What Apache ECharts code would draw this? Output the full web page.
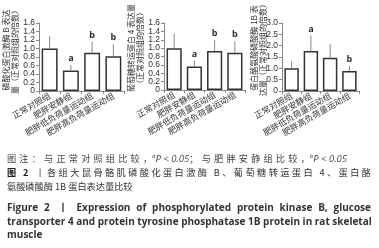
<!DOCTYPE html>
<html><head><meta charset="utf-8">
<script src="https://cdn.jsdelivr.net/npm/echarts@6/dist/echarts.min.js"></script>
<style>html,body{margin:0;padding:0;background:#fff}#c{width:379px;height:248px}</style>
</head><body><div id="c"></div>
<script>
// ---- data ----
const categories = ['正常对照组', '肥胖安静组', '肥胖低负荷量运动组', '肥胖高负荷量运动组'];
const paktMean = [1.0, 0.48, 0.90, 0.82];
const paktErr  = [0.30, 0.13, 0.26, 0.28];
const paktSig  = ['', 'a', 'b', 'b'];
const glut4Mean = [1.0, 0.56, 0.93, 0.89];
const glut4Err  = [0.35, 0.14, 0.26, 0.27];
const glut4Sig  = ['', 'a', 'b', 'b'];
const ptp1bMean = [1.0, 1.76, 1.47, 0.88];
const ptp1bErr  = [0.31, 0.69, 0.59, 0.22];
const ptp1bSig  = ['', 'a', '', 'b'];
const paktTicks  = [0, 0.2, 0.4, 0.6, 0.8, 1.0, 1.2, 1.4, 1.6];
const glut4Ticks = [0, 0.2, 0.4, 0.6, 0.8, 1.0, 1.2, 1.4, 1.6];
const ptp1bTicks = [0, 0.5, 1.0, 1.5, 2.0, 2.5, 3.0];
const yNames = [
  '磷酸化蛋白激酶 B 表达\n量（正常对照组的倍数）',
  '葡萄糖转运蛋白 4 表达量\n（正常对照组的倍数）',
  '蛋白酪氨酸磷酸酶 1B 表\n达量（正常对照组的倍数）'
];
const captionLines = {
  l2: '各组大鼠骨骼肌磷酸化蛋白激酶 B、葡萄糖转运蛋白 4、蛋白酪',
  l3: '氨酸磷酸酶 1B 蛋白表达量比较',
  l4: 'Figure 2  丨  Expression of phosphorylated protein kinase B, glucose',
  l5: 'transporter 4 and protein tyrosine phosphatase 1B protein in rat skeletal',
  l6: 'muscle'
};

// ---- layout ----
const CJK = '"Noto Sans CJK SC", sans-serif';
const grids = [
  {left: 39, top: 23, width: 85, height: 68},
  {left: 164, top: 23, width: 81, height: 67},
  {left: 282, top: 23, width: 77, height: 68}
];
const nameCenters = [[10.5, 50], [135, 48], [258, 48]];
const means = [paktMean, glut4Mean, ptp1bMean];
const errs = [paktErr, glut4Err, ptp1bErr];
const sigs = [paktSig, glut4Sig, ptp1bSig];
const ticks = [paktTicks, glut4Ticks, ptp1bTicks];

const chart = echarts.init(document.getElementById('c'), null, {renderer: 'canvas'});

const xAxes = [], yAxes = [], series = [];
for (let k = 0; k < 3; k++) {
  const tk = ticks[k];
  xAxes.push({
    gridIndex: k, type: 'category', data: categories,
    axisLine: {lineStyle: {color: '#888', width: 1}},
    axisTick: {show: true, length: 3, lineStyle: {color: '#888'}},
    axisLabel: {interval: 0, rotate: 30, fontSize: 8.5, margin: 4, color: '#333', fontFamily: CJK}
  });
  yAxes.push({
    gridIndex: k, type: 'value', min: tk[0], max: tk[tk.length - 1], interval: tk[1] - tk[0],
    axisLine: {show: true, lineStyle: {color: '#888', width: 1}},
    axisTick: {show: true, length: 3, lineStyle: {color: '#888'}},
    splitLine: {show: false},
    axisLabel: {show: false}
  });
  series.push({
    type: 'bar', xAxisIndex: k, yAxisIndex: k, data: means[k], barWidth: '75%',
    itemStyle: {color: '#fff', borderColor: '#333', borderWidth: 1.5},
    silent: true, animation: false
  });
  // y tick labels placed through the value axis scale
  series.push({
    type: 'custom', xAxisIndex: k, yAxisIndex: k, animation: false, silent: true, clip: false,
    data: tk.map(v => [0, v]),
    renderItem: function (params, api) {
      const v = api.value(1);
      const p = api.coord([0, v]);
      return {type: 'text', x: params.coordSys.x - 4, y: p[1],
        style: {text: v === 0 ? '0' : v.toFixed(1), font: '8.5px "Liberation Sans", Arial, sans-serif', fill: '#333',
          align: 'right', verticalAlign: 'middle', textAlign: 'right', textVerticalAlign: 'middle'}};
    }
  });
  const m = means[k], e = errs[k], s = sigs[k];
  series.push({
    type: 'custom', xAxisIndex: k, yAxisIndex: k, animation: false, silent: true, z: 5, clip: false,
    data: m.map((v, i) => [i, v, v + e[i]]),
    renderItem: function (params, api) {
      const i = api.value(0);
      const p0 = api.coord([i, api.value(1)]);
      const p1 = api.coord([i, api.value(2)]);
      const children = [{
        type: 'line', shape: {x1: p0[0], y1: p0[1], x2: p1[0], y2: p1[1]},
        style: {stroke: '#888', lineWidth: 1}
      }];
      const sig = s[params.dataIndex];
      if (sig) {
        children.push({
          type: 'text', x: p1[0], y: p1[1] - 2,
          style: {text: sig, font: 'bold 9px "Open Sans", sans-serif', fill: '#1e2b40',
            align: 'center', verticalAlign: 'bottom', textAlign: 'center', textVerticalAlign: 'bottom'}
        });
      }
      return {type: 'group', children: children};
    }
  });
}

// ---- caption layout helpers ----
const mctx = document.createElement('canvas').getContext('2d');
function tw(t, f) { mctx.font = f; return mctx.measureText(t).width; }
function layoutLine(segs, x0, x1, y, mode) {
  const toks = [];
  segs.forEach(sg => {
    if (mode === 'word') {
      sg.t.split(/( +)/).forEach(w => { if (w.length) toks.push({t: w, sg: sg, space: /^ +$/.test(w)}); });
    } else if (sg.whole) {
      toks.push({t: sg.t, sg: sg, space: false});
    } else {
      Array.from(sg.t).forEach(ch => toks.push({t: ch, sg: sg, space: false}));
    }
  });
  toks.forEach(tk => tk.w = tw(tk.t, tk.sg.font));
  const natural = toks.reduce((a, tk) => a + tk.w, 0);
  const gapOK = (idx) => mode === 'word' ? toks[idx].space :
    (idx < toks.length - 1 && !toks[idx].sg.tight && !toks[idx + 1].sg.tight);
  let extra = 0;
  if (x1 != null) {
    let nGaps = 0;
    toks.forEach((tk, idx) => { if (gapOK(idx)) nGaps++; });
    extra = nGaps > 0 ? Math.max(0, (x1 - x0 - natural) / nGaps) : 0;
  }
  const els = [];
  let x = x0;
  toks.forEach((tk, idx) => {
    if (!tk.space) {
      els.push({type: 'text', x: x, y: y + (tk.sg.dy || 0), silent: true,
        style: {text: tk.t, font: tk.sg.font, fill: tk.sg.fill,
          align: 'left', verticalAlign: 'middle', textAlign: 'left', textVerticalAlign: 'middle'}});
    }
    x += tk.w;
    if (gapOK(idx)) x += extra;
  });
  return els;
}

const fCJK = '9.2px ' + CJK;
const fCJKb = 'bold 9.2px ' + CJK;
const fEN = 'bold 10px "Open Sans", "Noto Sans CJK SC", sans-serif';
const fSup = 'italic 6px "Open Sans", sans-serif';
const fIt = 'italic 9.5px "Open Sans", sans-serif';

let graphics = [];
yNames.forEach((nm, k) => {
  graphics.push({type: 'text', x: nameCenters[k][0], y: nameCenters[k][1], rotation: Math.PI / 2, silent: true,
    style: {text: nm, font: '8px ' + CJK, fill: '#333', lineHeight: 9,
      align: 'center', verticalAlign: 'middle', textAlign: 'center', textVerticalAlign: 'middle'}});
});
graphics = graphics.concat(layoutLine([
  {t: '图注：与正常对照组比较，', font: fCJK, fill: '#444'},
  {t: 'a', font: fSup, fill: '#444', dy: -3, tight: true},
  {t: 'P < 0.05', font: fIt, fill: '#444', tight: true, whole: true},
  {t: '；与肥胖安静组比较，', font: fCJK, fill: '#444'},
  {t: 'b', font: fSup, fill: '#444', dy: -3, tight: true},
  {t: 'P < 0.05', font: fIt, fill: '#444', tight: true, whole: true}
], 7, 347, 159, 'char'));
graphics = graphics.concat(layoutLine([
  {t: '图 2 ', font: fCJKb, fill: '#222'},
  {t: '丨', font: fCJK, fill: '#333'},
  {t: captionLines.l2, font: fCJK, fill: '#333'}
], 7, 371, 173, 'char'));
graphics = graphics.concat(layoutLine([{t: captionLines.l3, font: fCJK, fill: '#333'}], 7, null, 187, 'char'));
graphics = graphics.concat(layoutLine([{t: captionLines.l4, font: fEN, fill: '#333'}], 7, 371, 208, 'word'));
graphics = graphics.concat(layoutLine([{t: captionLines.l5, font: fEN, fill: '#333'}], 7, 371, 222, 'word'));
graphics = graphics.concat(layoutLine([{t: captionLines.l6, font: fEN, fill: '#333'}], 7, null, 235, 'word'));

chart.setOption({
  animation: false,
  backgroundColor: '#fff',
  grid: grids.map(g => Object.assign({containLabel: false}, g)),
  xAxis: xAxes,
  yAxis: yAxes,
  series: series,
  graphic: {elements: graphics}
});
</script>
</body></html>
